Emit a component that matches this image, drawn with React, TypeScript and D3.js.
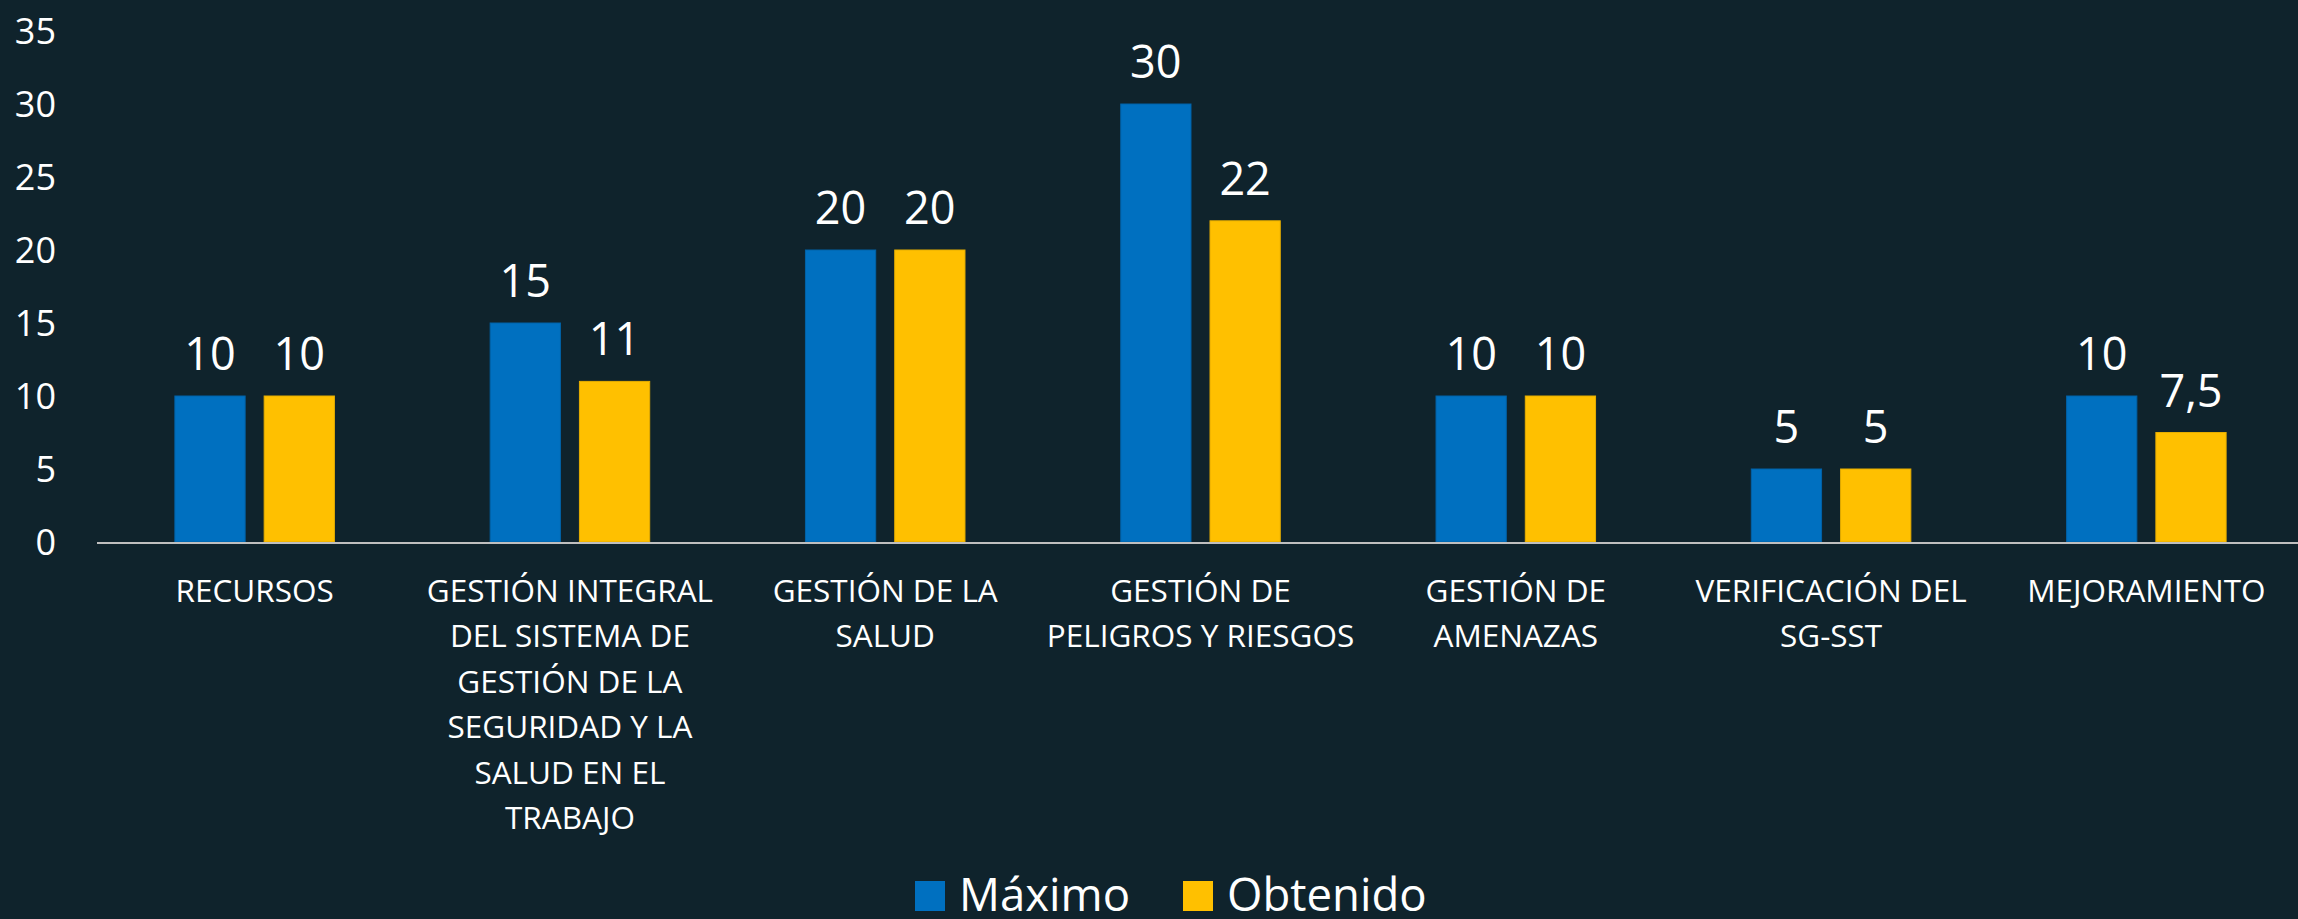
import { useEffect, useRef } from 'react';
import * as d3 from 'd3';

const categories = [
  ['RECURSOS'],
  ['GESTIÓN INTEGRAL', 'DEL SISTEMA DE', 'GESTIÓN DE LA', 'SEGURIDAD Y LA', 'SALUD EN EL', 'TRABAJO'],
  ['GESTIÓN DE LA', 'SALUD'],
  ['GESTIÓN DE', 'PELIGROS Y RIESGOS'],
  ['GESTIÓN DE', 'AMENAZAS'],
  ['VERIFICACIÓN DEL', 'SG-SST'],
  ['MEJORAMIENTO'],
];
const seriesNames = ['Máximo', 'Obtenido'];
const maximo = [10, 15, 20, 30, 10, 5, 10];
const obtenido = [10, 11, 20, 22, 10, 5, 7.5];
const yTicks = [0, 5, 10, 15, 20, 25, 30, 35];

const W = 2298;
const H = 919;
const FONT = '"Open Sans", "Noto Sans", sans-serif';
const colors = ['#0070C0', '#FFC000'];
const strokes = ['#0062A8', '#E6AD00'];

export default function App() {
  const svgRef = useRef<SVGSVGElement>(null);

  useEffect(() => {
    if (!svgRef.current) return;
    const svg = d3.select(svgRef.current);
    svg.selectAll('*').remove();

    svg.append('rect').attr('width', W).attr('height', H).attr('fill', '#0F232C');

    const keys = categories.map((_, i) => String(i));
    // outer padding = inner / 2 keeps a steady step across the row
    const x = d3.scaleBand().domain(keys).range([97, 2304]).paddingInner(0.494).paddingOuter(0.247);
    const xs = d3.scaleBand().domain(seriesNames).range([0, x.bandwidth()]).paddingInner(0.213);
    const y = d3.scaleLinear().domain([0, 35]).range([542, 31]);

    // y tick labels
    svg.append('g')
      .selectAll('text')
      .data(yTicks)
      .enter()
      .append('text')
      .attr('x', 56)
      .attr('y', d => y(d))
      .attr('dy', '0.36em')
      .attr('text-anchor', 'end')
      .attr('fill', '#FFFFFF')
      .style('font-family', FONT)
      .style('font-size', '36px')
      .text(d => d);

    const rows = categories.map((_, i) => ({ i, vals: [maximo[i], obtenido[i]] }));

    const groups = svg.append('g')
      .selectAll('g')
      .data(rows)
      .enter()
      .append('g')
      .attr('transform', d => `translate(${x(String(d.i))},0)`);

    groups.selectAll('rect')
      .data(d => d.vals.map((v, k) => ({ v, k })))
      .enter()
      .append('rect')
      .attr('x', d => xs(seriesNames[d.k]) as number)
      .attr('y', d => y(d.v))
      .attr('width', xs.bandwidth())
      .attr('height', d => y(0) - y(d.v))
      .attr('fill', d => colors[d.k])
      .attr('stroke', d => strokes[d.k])
      .attr('stroke-width', 1);

    groups.selectAll('text')
      .data(d => d.vals.map((v, k) => ({ v, k })))
      .enter()
      .append('text')
      .attr('x', d => (xs(seriesNames[d.k]) as number) + xs.bandwidth() / 2)
      .attr('y', d => y(d.v) - 26)
      .attr('text-anchor', 'middle')
      .attr('fill', '#FFFFFF')
      .style('font-family', FONT)
      .style('font-size', '45px')
      .text(d => String(d.v).replace('.', ','));

    // baseline
    svg.append('line')
      .attr('x1', 97)
      .attr('x2', W)
      .attr('y1', y(0) + 1)
      .attr('y2', y(0) + 1)
      .attr('stroke', '#BFBFBF')
      .attr('stroke-width', 2);

    // category labels
    const labels = svg.append('g')
      .selectAll('text')
      .data(categories)
      .enter()
      .append('text')
      .attr('text-anchor', 'middle')
      .attr('fill', '#FFFFFF')
      .style('font-family', FONT)
      .style('font-size', '31.5px');

    labels.each(function (lines, i) {
      const cx = (x(String(i)) as number) + x.bandwidth() / 2;
      d3.select(this)
        .selectAll('tspan')
        .data(lines)
        .enter()
        .append('tspan')
        .attr('x', cx)
        .attr('y', (_, j) => 602 + j * 45.4)
        .text(t => t);
    });

    // legend
    const legend = svg.append('g');
    const legendX = [915, 1183];
    seriesNames.forEach((name, k) => {
      legend.append('rect')
        .attr('x', legendX[k])
        .attr('y', 881)
        .attr('width', 30)
        .attr('height', 30)
        .attr('fill', colors[k]);
      legend.append('text')
        .attr('x', legendX[k] + 44)
        .attr('y', 911)
        .attr('fill', '#FFFFFF')
        .style('font-family', FONT)
        .style('font-size', '45.5px')
        .text(name);
    });
  }, []);

  return (
    <svg
      ref={svgRef}
      width={W}
      height={H}
      style={{ position: 'absolute', left: 0, top: 0, display: 'block' }}
    />
  );
}
